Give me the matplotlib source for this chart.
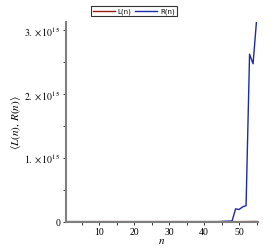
import matplotlib
matplotlib.use("Agg")
import matplotlib.pyplot as plt
import numpy as np

# n = 1..55, values in units of 1e15
n = np.arange(1, 56)
R_vals = [0.0] * 44 + [0.003, 0.006, 0.008, 0.010, 0.20, 0.19, 0.23, 0.25, 2.62, 2.47, 3.15]
L_vals = [0.0] * 50 + [0.001, 0.001, 0.002, 0.002, 0.003]
scale = 1e15

y_ticks = [0, 1e15, 2e15, 3e15]
y_tick_labels = ["0", r"$1.\times10^{15}$", r"$2.\times10^{15}$", r"$3.\times10^{15}$"]
x_ticks = [10, 20, 30, 40, 50]

plt.rcParams['font.family'] = ['Liberation Serif', 'DejaVu Serif']
plt.rcParams['mathtext.fontset'] = 'stix'

fig = plt.figure(figsize=(2.77, 2.51), dpi=100)
ax = fig.add_axes([0.237, 0.113, 0.693, 0.797])

ax.plot(n, np.array(L_vals) * scale, color='#a01818', lw=1.0, label='L(n)')
ax.plot(n, np.array(R_vals) * scale, color='#1c2aa8', lw=1.0, label='R(n)')

ax.set_xlim(0.4, 55.3)
ax.set_ylim(0, 3.13e15)

for s in ['top', 'right']:
    ax.spines[s].set_visible(False)
for s in ['left', 'bottom']:
    ax.spines[s].set_color('#7f7f7f')
    ax.spines[s].set_linewidth(1.5)

ax.set_xticks(x_ticks)
ax.set_xticks([5, 15, 25, 35, 45, 55], minor=True)
ax.set_yticks(y_ticks)
ax.set_yticklabels(y_tick_labels)
ax.set_yticks([0.5e15, 1.5e15, 2.5e15], minor=True)
ax.tick_params(axis='both', which='both', labelsize=7, length=2.5, width=0.7,
               color='#333333', pad=1.5)

ax.set_xlabel(r"$n$", fontsize=8, labelpad=0)
ax.set_ylabel(r"$\langle L(n),\, R(n)\rangle$", fontsize=8, labelpad=1)

leg = fig.legend(loc='upper center', bbox_to_anchor=(0.483, 0.985), ncol=2,
                 prop={'family': 'DejaVu Sans', 'size': 5}, frameon=True,
                 fancybox=False, edgecolor='black', handlelength=3.2,
                 handletextpad=0.4, columnspacing=0.5, borderpad=0.25)
leg.get_frame().set_linewidth(0.8)

fig.savefig("out.png", dpi=100)
